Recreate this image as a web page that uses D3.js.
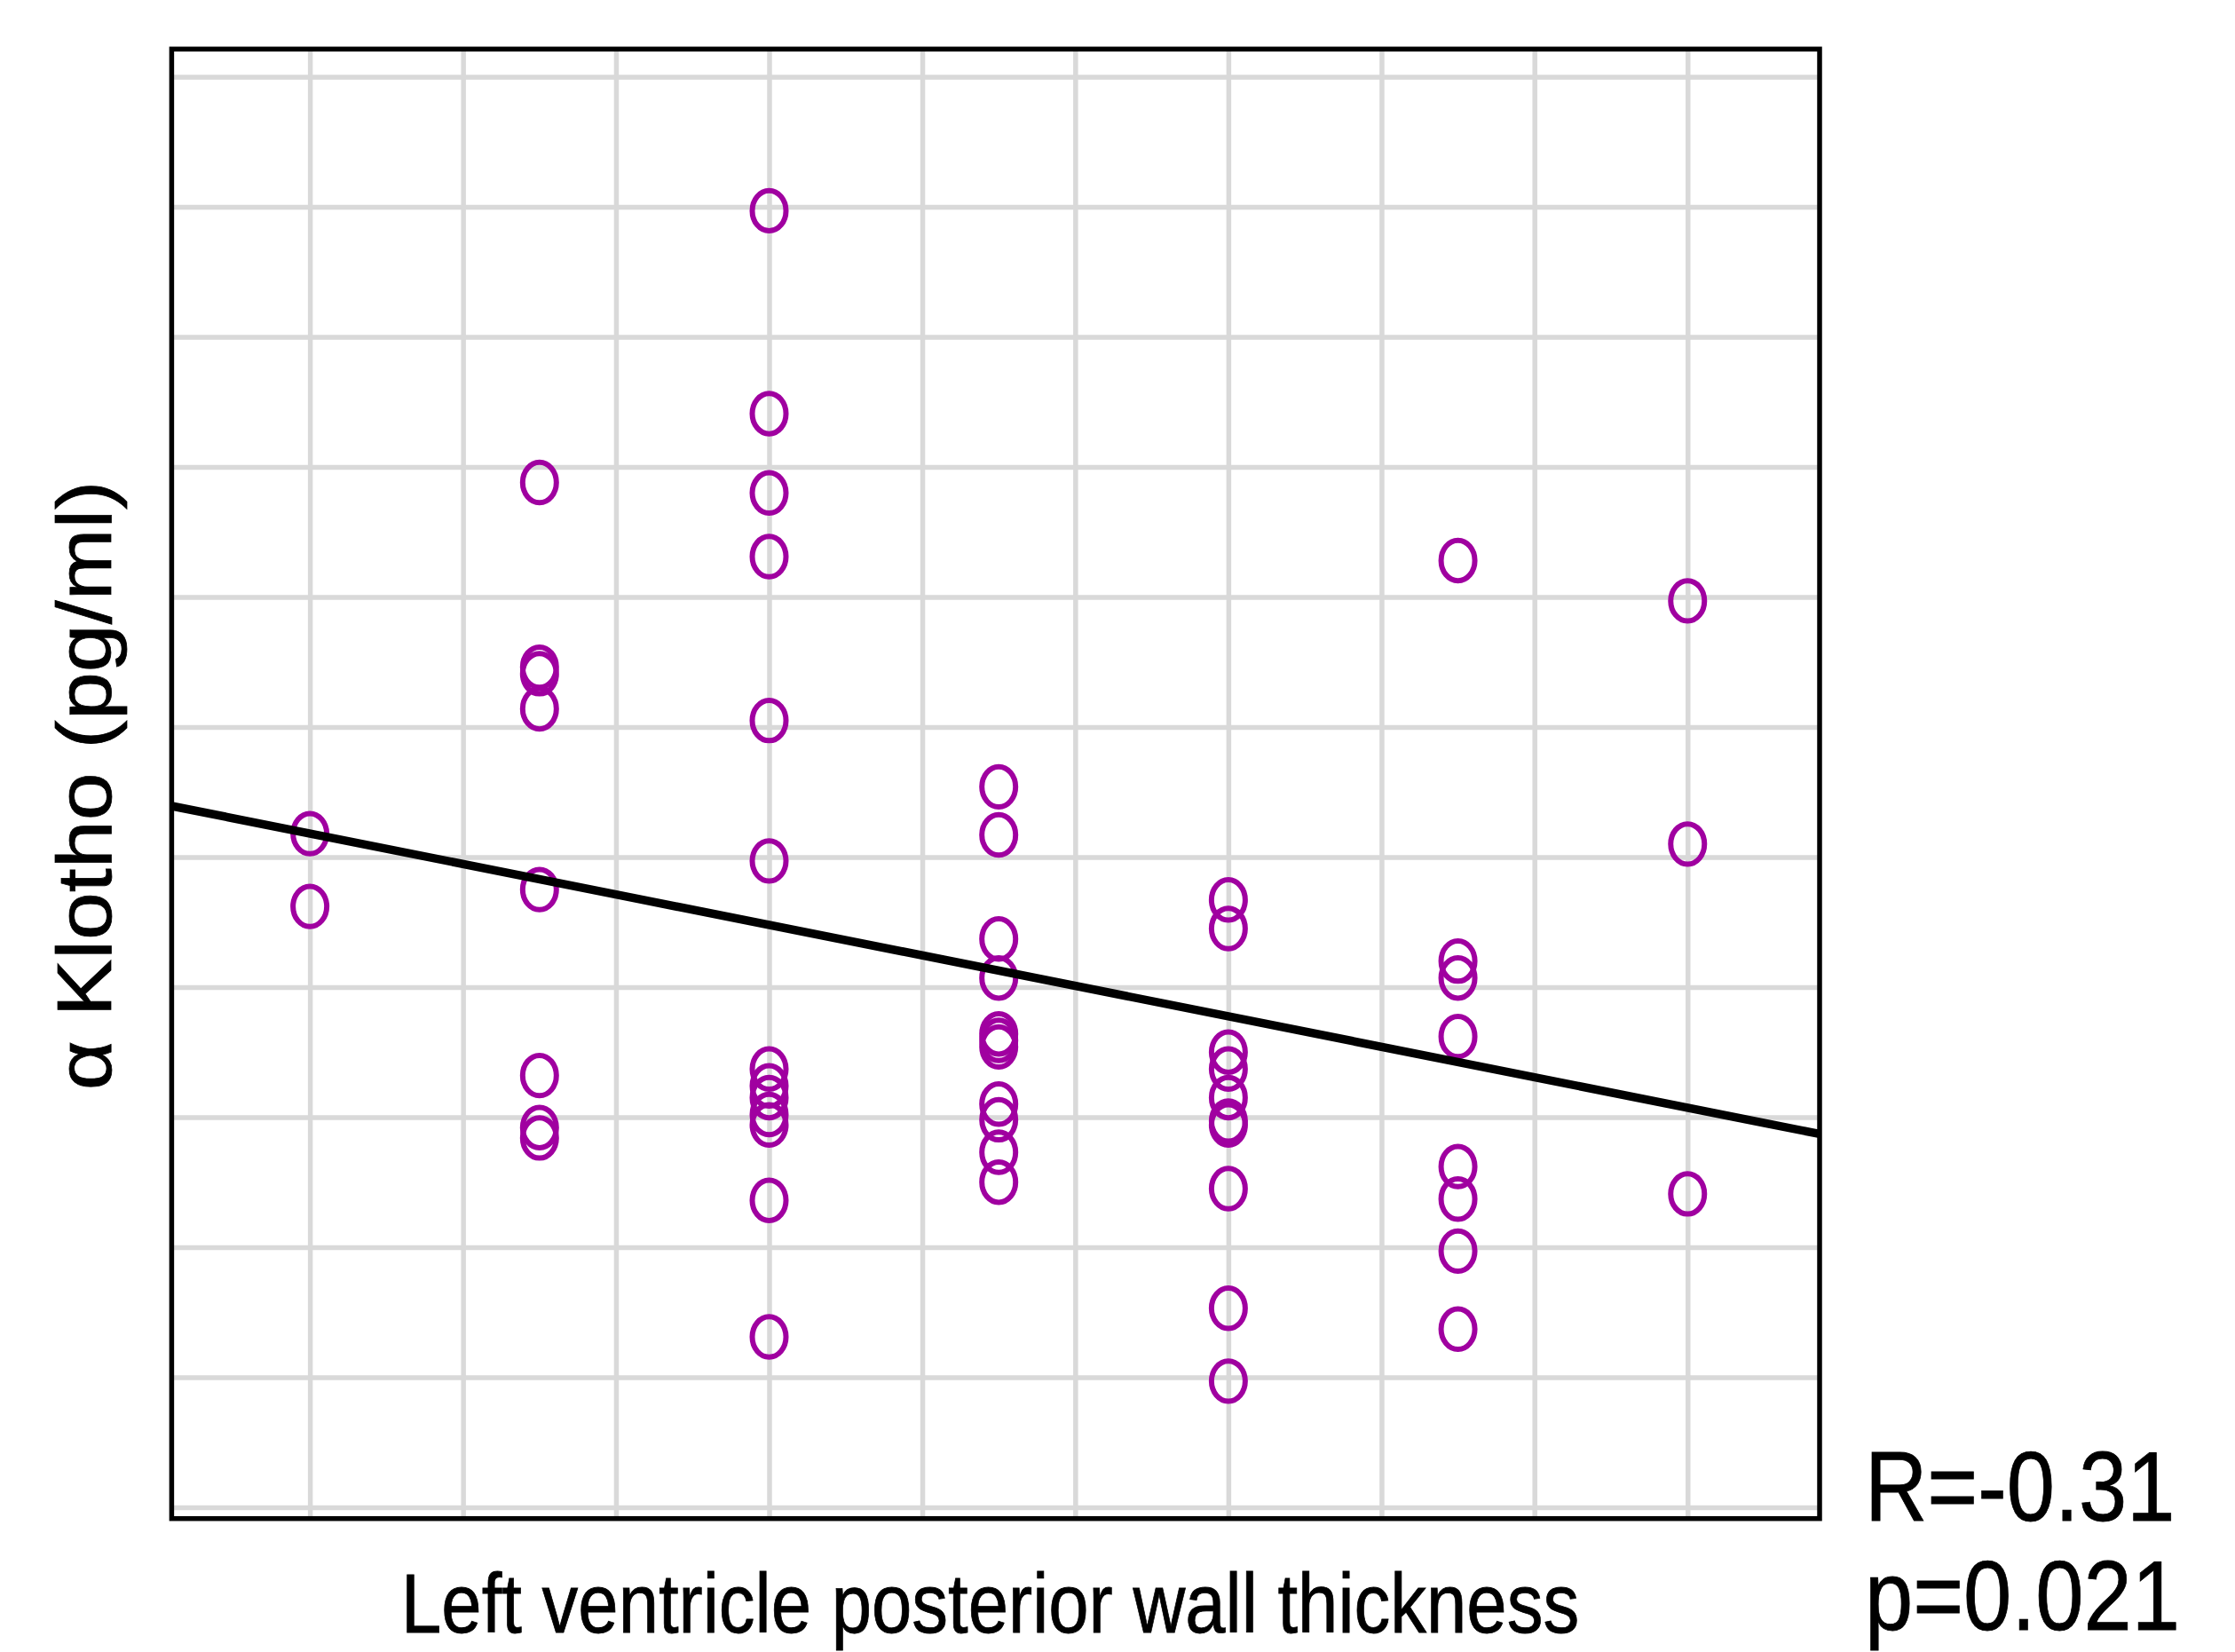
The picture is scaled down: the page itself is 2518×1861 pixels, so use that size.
<!DOCTYPE html>
<html>
<head>
<meta charset="utf-8">
<script src="https://cdn.jsdelivr.net/npm/d3@7"></script>
<style>
    body { margin: 0; background: #fff; }
    text { font-family: "Liberation Sans", Arial, sans-serif; fill: #000; stroke: #000; stroke-width: 0.8; }
</style>
</head>
<body>
<div id="chart"></div>
<script>
// wall thickness (mm) and klotho (pg/ml)
const thickness = [
    8, 8,
    9, 9, 9, 9, 9, 9, 9, 9,
    10, 10, 10, 10, 10, 10, 10, 10, 10, 10, 10, 10, 10,
    11, 11, 11, 11, 11, 11, 11, 11, 11, 11, 11,
    12, 12, 12, 12, 12, 12, 12, 12, 12, 12,
    13, 13, 13, 13, 13, 13, 13, 13,
    14, 14, 14
];
const klotho = [
    518, 462,
    788, 646, 641, 614, 475, 332, 292, 284,
    997, 841, 780, 731, 605, 497, 337, 324, 315, 302, 294, 236, 131,
    554, 517, 437, 407, 364, 359, 354, 310, 298, 273, 250,
    467, 445, 350, 337, 315, 297, 294, 245, 153, 97,
    728, 420, 407, 362, 262, 237, 197, 137,
    697, 510, 241
];

// grid positions (no tick labels on this chart)
const xGrid = [8, 8.667, 9.333, 10, 10.667, 11.333, 12, 12.667, 13.333, 14];
const yGrid = [0, 100, 200, 300, 400, 500, 600, 700, 800, 900, 1000, 1100];

// regression line
const fitIntercept = 799.2;
const fitSlope = -35.14;

const xLabel = "Left ventricle posterior wall thickness";
const yLabel = "\u03b1 Klotho (pg/ml)";
const rText = "R=-0.31";
const pText = "p=0.021";

const width = 2518, height = 1861;
const plotLeft = 193.4, plotRight = 2050, plotTop = 55.3, plotBottom = 1710.7;

const svg = d3.select("#chart")
    .append("svg")
    .attr("width", width)
    .attr("height", height);

svg.append("rect")
    .attr("width", width)
    .attr("height", height)
    .attr("fill", "#fff");

const x = d3.scaleLinear()
    .domain([7.398, 14.575])
    .range([plotLeft, plotRight]);

const y = d3.scaleLinear()
    .domain([-8.7, 1121.3])
    .range([plotBottom, plotTop]);

// grid
svg.append("g")
    .attr("transform", "translate(0," + plotBottom + ")")
    .call(d3.axisBottom(x).tickValues(xGrid).tickSize(-(plotBottom - plotTop)).tickFormat(""))
    .call(g => g.select(".domain").remove())
    .selectAll("line")
    .attr("stroke", "#d9d9d9")
    .attr("stroke-width", 5.5);

svg.append("g")
    .attr("transform", "translate(" + plotLeft + ",0)")
    .call(d3.axisLeft(y).tickValues(yGrid).tickSize(-(plotRight - plotLeft)).tickFormat(""))
    .call(g => g.select(".domain").remove())
    .selectAll("line")
    .attr("stroke", "#d9d9d9")
    .attr("stroke-width", 5.5);

// frame
svg.append("rect")
    .attr("x", plotLeft)
    .attr("y", plotTop)
    .attr("width", plotRight - plotLeft)
    .attr("height", plotBottom - plotTop)
    .attr("fill", "none")
    .attr("stroke", "#000")
    .attr("stroke-width", 5.5);

// points
svg.append("g")
    .selectAll("ellipse")
    .data(thickness)
    .enter()
    .append("ellipse")
    .attr("cx", d => x(d))
    .attr("cy", (d, i) => y(klotho[i]))
    .attr("rx", 19)
    .attr("ry", 22.7)
    .attr("fill", "none")
    .attr("stroke", "#a000a0")
    .attr("stroke-width", 6);

// fit line
const xs = x.domain();
svg.append("path")
    .datum(xs)
    .attr("fill", "none")
    .attr("stroke", "#000")
    .attr("stroke-width", 9.5)
    .attr("d", d3.line()
        .x(d => x(d))
        .y(d => y(fitIntercept + fitSlope * d))
    );

// labels
svg.append("text")
    .attr("transform", "translate(452,1839) scale(0.867,1)")
    .attr("font-size", 94)
    .text(xLabel);

svg.append("text")
    .attr("transform", "translate(125,885) rotate(-90) scale(1,0.9)")
    .attr("text-anchor", "middle")
    .attr("font-size", 97)
    .text(yLabel);

svg.append("text")
    .attr("transform", "translate(2101,1713) scale(0.87,1)")
    .attr("font-size", 112)
    .text(rText);

svg.append("text")
    .attr("transform", "translate(2101,1836) scale(0.87,1)")
    .attr("font-size", 112)
    .text(pText);
</script>
</body>
</html>
